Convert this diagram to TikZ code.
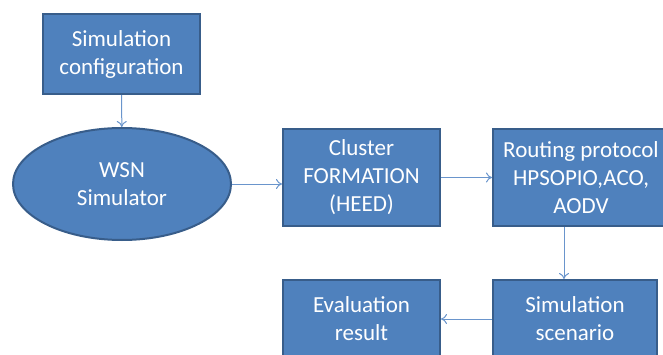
\documentclass[tikz,border=0pt]{standalone}
\usepackage{fontspec}
\setmainfont{Carlito}
\usetikzlibrary{shapes.geometric,arrows.meta}
\definecolor{boxfill}{HTML}{4F81BD}
\definecolor{boxline}{HTML}{385D8A}
\definecolor{conn}{HTML}{6A95CC}
\begin{document}
\begin{tikzpicture}[x=1pt,y=1pt,
  blk/.style={draw=boxline,line width=2pt,fill=boxfill,text=white,align=center,inner sep=0pt,
    font=\fontsize{23}{28}\selectfont},
  conn/.style={draw=conn,line width=1pt,-{To[length=6pt,width=10pt]}}]
\useasboundingbox (0,0) rectangle (663,354);
\clip (0,0) rectangle (663,354);
\node[blk,minimum width=157,minimum height=80] (cfg) at (121.5,300) {Simulation\\configuration};
\node[blk,ellipse,minimum width=218,minimum height=112] (wsn) at (122,170) {WSN\\Simulator};
\node[blk,minimum width=157,minimum height=97] (cl) at (361.5,176.5) {Cluster\\FORMATION\\(HEED)};
\node[blk,minimum width=176,minimum height=97] (rt) at (581,176.5) {Routing protocol\\HPSOPIO,ACO,\\AODV};
\node[blk,minimum width=164,minimum height=78] (sim) at (575,35) {Simulation\\scenario};
\node[blk,minimum width=157,minimum height=78] (ev) at (361.5,35) {Evaluation\\result};
\draw[conn] (cfg) -- (wsn);
\draw[conn] (wsn) -- (wsn -| cl.west);
\draw[conn] (cl) -- (rt);
\draw[conn] ([xshift=-17pt]rt.south) -- ([xshift=-17pt]rt.south |- sim.north);
\draw[conn] (sim) -- (ev);
\end{tikzpicture}
\end{document}
